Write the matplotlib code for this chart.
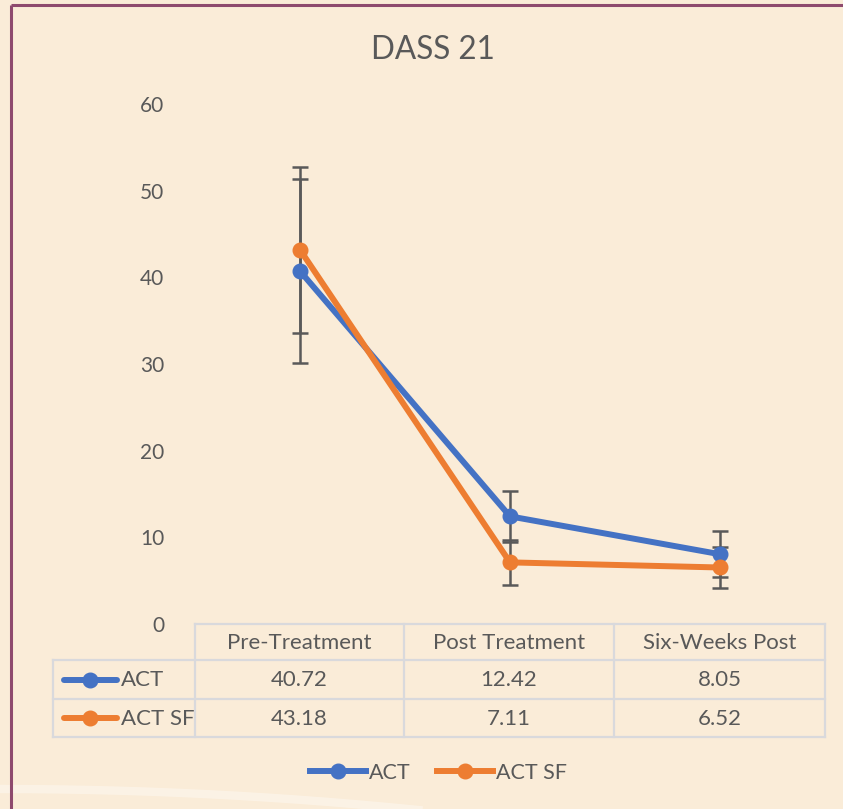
import matplotlib.pyplot as plt
import numpy as np

plt.rcParams['font.family'] = ['Lato', 'DejaVu Sans']

# data
phases = ['Pre-Treatment', 'Post Treatment', 'Six-Weeks Post']
act = [40.72, 12.42, 8.05]
act_sf = [43.18, 7.11, 6.52]
act_err = [10.6, 2.93, 2.68]
act_sf_err = [9.6, 2.6, 2.4]
series_names = ['ACT', 'ACT SF']
yticks = [0, 10, 20, 30, 40, 50, 60]

bg = '#FAECD8'
txt = '#595959'
blue = '#4472C4'
orange = '#ED7D31'
grid_c = '#D9D9DC'

W, H = 843, 809
fig = plt.figure(figsize=(W / 100, H / 100), dpi=100, facecolor=bg)

# pixel-coordinate overlay for frame, table and decorations
ov = fig.add_axes([0, 0, 1, 1], zorder=0)
ov.set_xlim(0, W)
ov.set_ylim(H, 0)
ov.axis('off')
ov.set_facecolor(bg)

# faint decorative swoosh near the bottom
xs = np.linspace(0, 843, 200)
ov.plot(xs, 789 + 0.00012 * xs ** 2, color='white', alpha=0.35, lw=6, zorder=0)

# maroon frame (top and left)
ov.plot([11, W], [5, 5], color='#8E4A6E', lw=2.2, solid_capstyle='butt')
ov.plot([11, 11], [5, H], color='#8E4A6E', lw=2.2, solid_capstyle='butt')

# plot area
L, R, T, B = 195, 825, 104, 624
ax = fig.add_axes([L / W, 1 - B / H, (R - L) / W, (B - T) / H], zorder=2)
ax.patch.set_alpha(0)
x = np.arange(1, len(phases) + 1)

ax.errorbar(x, act, yerr=act_err, fmt='none', ecolor='#595959', elinewidth=1.8,
            capsize=6, capthick=1.8, zorder=2)
ax.errorbar(x, act_sf, yerr=act_sf_err, fmt='none', ecolor='#595959', elinewidth=1.8,
            capsize=6, capthick=1.8, zorder=2)
l1, = ax.plot(x, act, color=blue, lw=4.3, marker='o', ms=10.5, label=series_names[0], zorder=3)
l2, = ax.plot(x, act_sf, color=orange, lw=4.3, marker='o', ms=10.5, label=series_names[1], zorder=4)

ax.set_xlim(0.5, len(phases) + 0.5)
ax.set_ylim(0, 60)
ax.set_yticks(yticks)
ax.set_xticks([])
ax.tick_params(axis='y', length=0, pad=22, labelsize=15, labelcolor=txt)
for s in ax.spines.values():
    s.set_visible(False)

fig.text(0.513, 1 - 50 / H, 'DASS 21', ha='center', va='center', fontsize=22.7, color=txt)

# data table below the plot
rows_y = [624, 660, 699, 737]
col_x = [195, 404, 614, 825]
left_x = 53
ov.plot([col_x[0], col_x[-1]], [rows_y[0]] * 2, color=grid_c, lw=1.6)
for yy in rows_y[1:]:
    ov.plot([left_x, col_x[-1]], [yy] * 2, color=grid_c, lw=1.6)
for xx in col_x:
    ov.plot([xx, xx], [rows_y[0], rows_y[-1]], color=grid_c, lw=1.6)
ov.plot([left_x, left_x], [rows_y[1], rows_y[-1]], color=grid_c, lw=1.6)

for j, ph in enumerate(phases):
    cx = (col_x[j] + col_x[j + 1]) / 2
    ov.text(cx, (rows_y[0] + rows_y[1]) / 2 + 1, ph, ha='center', va='center',
            fontsize=16, color=txt)
    for i, vals in enumerate([act, act_sf]):
        ov.text(cx, (rows_y[i + 1] + rows_y[i + 2]) / 2 + 1, f'{vals[j]:.2f}',
                ha='center', va='center', fontsize=16, color=txt)

for i, (name, c) in enumerate(zip(series_names, [blue, orange])):
    yy = (rows_y[i + 1] + rows_y[i + 2]) / 2
    ov.plot([64, 117], [yy, yy], color=c, lw=4.3, solid_capstyle='round')
    ov.plot([90], [yy], 'o', color=c, ms=10.5)
    ov.text(121, yy + 1, name, ha='left', va='center', fontsize=16, color=txt)

# legend at the bottom
fig.legend(handles=[l1, l2], loc='center', bbox_to_anchor=(0.52, 1 - 773 / H), ncol=2,
           frameon=False, fontsize=15.5, labelcolor=txt, handlelength=2.6,
           handletextpad=0.15, columnspacing=1.2)

fig.savefig('out.png', dpi=100, facecolor=bg)
